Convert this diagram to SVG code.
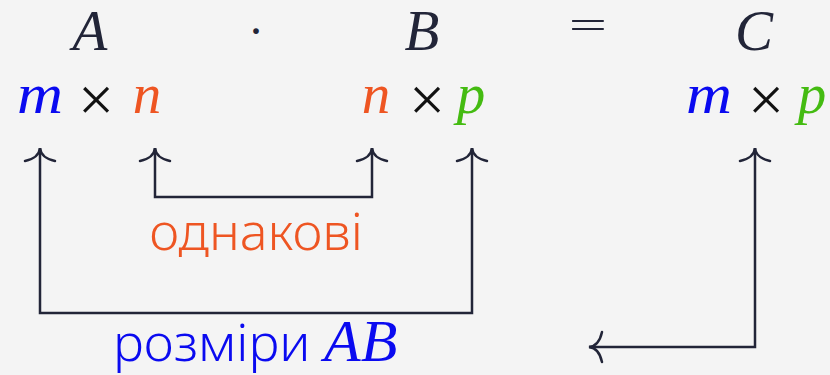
<svg xmlns="http://www.w3.org/2000/svg" width="830" height="375" viewBox="0 0 830 375">
<style>
.m{font-family:"Liberation Serif","DejaVu Serif",serif;font-style:italic;font-size:57px;text-anchor:middle}
.op{font-family:"Liberation Serif","DejaVu Serif",serif;font-size:64px;text-anchor:middle;fill:#111}
.s{font-family:"Noto Sans","Open Sans",sans-serif;font-size:52px;font-weight:300}
.dk{fill:#222538}
.bl{fill:#0a0af0}
.or{fill:#ee5522}
.gr{fill:#44bb11}
.ln{fill:none;stroke:#222538;stroke-width:2.5;marker-start:url(#ah);marker-end:url(#ah)}
</style>
<defs>
<marker id="ah" markerUnits="userSpaceOnUse" orient="auto-start-reverse" refX="0" refY="0" markerWidth="40" markerHeight="40" viewBox="-20 -20 40 40" overflow="visible">
<path d="M -13,-15 Q -10,-1 0,0 Q -10,1 -13,15" fill="none" stroke="#222538" stroke-width="2.5" stroke-linecap="round"/>
</marker>
</defs>
<rect width="830" height="375" fill="#f4f4f4"/>
<g id="A"><text class="m dk" x="90" y="50">A</text></g>
<g id="dot"><text class="op dk" x="256" y="47" style="font-size:48px">·</text></g>
<g id="B"><text class="m dk" x="422" y="50">B</text></g>
<g id="eq"><text class="op dk" x="0" y="0" style="font-size:40px" transform="translate(588,39) scale(1.7,1)">=</text></g>
<g id="C"><text class="m dk" x="754" y="50">C</text></g>
<g id="dimA">
<text class="m bl" x="40" y="113" textLength="46" lengthAdjust="spacingAndGlyphs">m</text><text class="op" x="96" y="121">×</text><text class="m or" x="147" y="113">n</text>
</g>
<g id="dimB">
<text class="m or" x="376" y="113">n</text><text class="op" x="427" y="121">×</text><text class="m gr" x="471" y="113">p</text>
</g>
<g id="dimC">
<text class="m bl" x="709" y="113" textLength="46" lengthAdjust="spacingAndGlyphs">m</text><text class="op" x="766" y="121">×</text><text class="m gr" x="812" y="113">p</text>
</g>
<g id="connectors">
<path class="ln" d="M40,148 V313 H472 V148"/>
<path class="ln" d="M155,148 V197 H372 V148"/>
<path class="ln" d="M755,148 V347 H589"/>
</g>
<g id="same"><text class="s or" x="256" y="250" text-anchor="middle">однакові</text></g>
<g id="dims"><text class="s bl" x="113" y="361">розміри <tspan style="font-family:'Liberation Serif','DejaVu Serif',serif;font-style:italic;font-size:60px;font-weight:normal">AB</tspan></text></g>
</svg>
